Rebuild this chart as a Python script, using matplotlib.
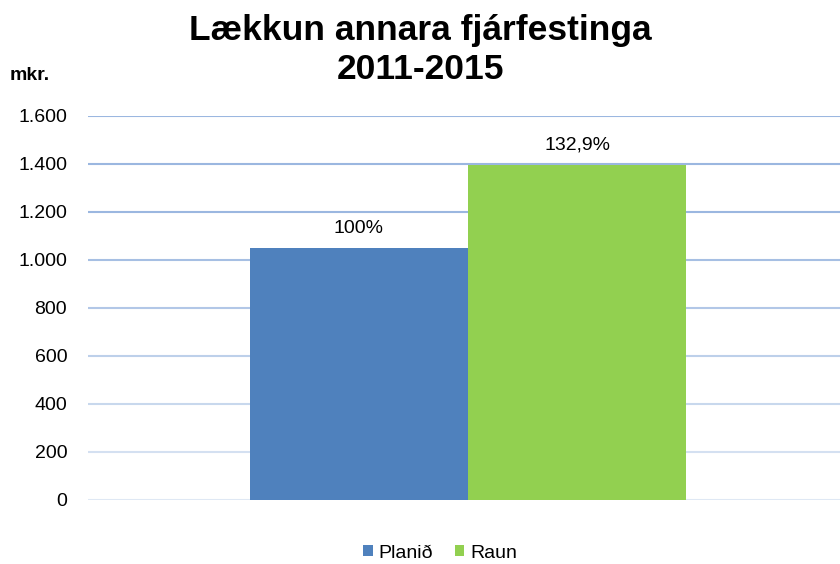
import numpy as np
import matplotlib.pyplot as plt
from matplotlib.colors import to_rgb

plt.rcParams['font.family'] = ['Liberation Sans', 'DejaVu Sans']

series = ['Planið', 'Raun']
values = [1050, 1395]
labels = ['100%', '132,9%']
colors = ['#4f81bd', '#92d050']
yticks = [0, 200, 400, 600, 800, 1000, 1200, 1400, 1600]

fig = plt.figure(figsize=(8.4, 5.64), dpi=100)
ax = fig.add_axes([88 / 840, 1 - 500 / 564, 760 / 840, 384 / 564])

width = 0.287
offsets = [-width / 2, width / 2]
for name, v, lab, c, x in zip(series, values, labels, colors, offsets):
    ax.bar(x, v, width=width, color=c, label=name, zorder=3)
    ax.text(x, v + 47, lab, ha='center', va='bottom', fontsize=14, color='#000000')

ax.set_xlim(-0.5, 0.5)
ax.set_ylim(0, 1600)
ax.set_yticks(yticks)
ax.set_yticklabels([f'{t:,}'.replace(',', '.') for t in yticks], fontsize=14)
ax.set_xticks([])
ax.tick_params(axis='y', length=0, pad=15)
for s in ax.spines.values():
    s.set_visible(False)

ax.yaxis.grid(True, linewidth=1.5, zorder=0)
# gridlines fade from light at the bottom to stronger blue at the top
light = np.array(to_rgb('#dfe8f4'))
dark = np.array(to_rgb('#9bb7e0'))
glines = ax.get_ygridlines()
n = len(glines)
for k, gl in enumerate(glines):
    f = min(1.0, k / (n - 3))
    gl.set_color(tuple(light + (dark - light) * f))

fig.text(0.5, 1 - 50 / 564, 'Lækkun annara fjárfestinga\n2011-2015', ha='center', va='center',
         fontsize=25.5, fontweight='bold', linespacing=1.25)
fig.text(10 / 840, 1 - 75 / 564, 'mkr.', ha='left', va='center', fontsize=14, fontweight='bold')

fig.legend(loc='center', bbox_to_anchor=(440 / 840, 1 - 553 / 564), ncol=2, frameon=False,
           fontsize=14, handlelength=0.5, handleheight=0.5, handletextpad=0.3, columnspacing=1.1)

fig.savefig('out.png', dpi=100)
